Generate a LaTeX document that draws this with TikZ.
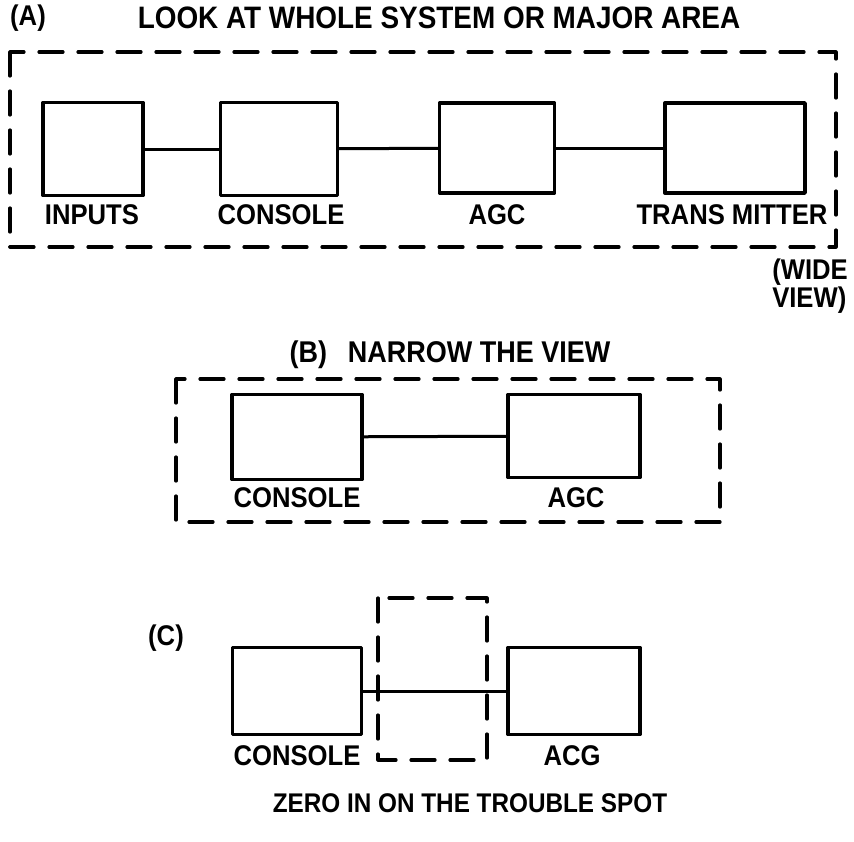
\documentclass[tikz,border=0pt]{standalone}
\usepackage{fontspec}
\setmainfont{Liberation Sans}[FakeStretch=0.9]
\newcommand\fsz[1]{\fontsize{#1}{#1}\selectfont}
\begin{document}
\begin{tikzpicture}[x=1pt, y=-1pt, line join=round, line cap=round,
  font=\fsz{28.5}\bfseries,
  blk/.style={draw, line width=3.4pt, inner sep=0pt},
  frame/.style={line width=3.2pt, dash pattern=on 24pt off 15pt},
  wire/.style={line width=3pt}]
\useasboundingbox (0,0) rectangle (854,841);
% (A) wide view
\node (ta)  at (28,18)  {(A)};
\node[font=\fsz{31}\bfseries] (tia) at (439,18) {LOOK AT WHOLE SYSTEM OR MAJOR AREA};
\draw[frame] (10,52) rectangle (836,247);
\node[blk, minimum width=100, minimum height=93]  (inp)  at (93,149)  {};
\node[blk, minimum width=117, minimum height=93]  (conA) at (279,149) {};
\node[blk, minimum width=115, minimum height=90]  (agcA) at (497,148) {};
\node[blk, minimum width=140, minimum height=90]  (trA)  at (735,148) {};
\draw[wire] (inp) -- (conA);
\draw[wire] (conA) -- (agcA);
\draw[wire] (agcA) -- (trA);
\node (linp)  at (92,215)  {INPUTS};
\node (lconA) at (281,215) {CONSOLE};
\node (lagcA) at (497,215) {AGC};
\node (ltrA)  at (732,215) {TRANS\hspace{0.25em}MITTER};
\node[align=left, inner sep=0pt] (wide) at (810,286) {(WIDE\\VIEW)};
% (B) narrow view
\node[font=\fsz{30}\bfseries] (tb) at (450,355) {(B)\hspace{0.7em}NARROW THE VIEW};
\draw[frame] (176,379) rectangle (720,522);
\node[blk, minimum width=130, minimum height=85] (conB) at (297,437) {};
\node[blk, minimum width=132, minimum height=83] (agcB) at (574,436) {};
\draw[wire] (conB) -- (agcB);
\node (lconB) at (297,498) {CONSOLE};
\node (lagcB) at (576,498) {AGC};
% (C) trouble spot
\node (tc) at (166,638) {(C)};
\draw[frame] (378,598) rectangle (487,760);
\node[blk, minimum width=129, minimum height=87] (conC) at (297,691) {};
\node[blk, minimum width=132, minimum height=87] (acgC) at (574,691) {};
\draw[wire] (conC) -- (acgC);
\node (lconC) at (297,756) {CONSOLE};
\node (lacgC) at (572,756) {ACG};
\node[font=\fsz{27}\bfseries] (tzc) at (470,803) {ZERO IN ON THE TROUBLE SPOT};
\end{tikzpicture}
\end{document}
